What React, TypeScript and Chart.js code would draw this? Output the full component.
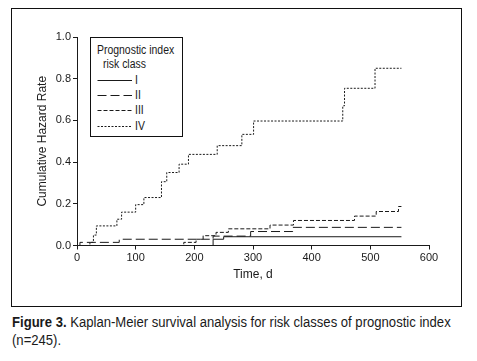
import React, { useEffect, useRef } from "react";
import { Chart, registerables } from "chart.js";

Chart.register(...registerables);

// ---- Data ----
const legendLabels = ["I", "II", "III", "IV"];

const timesI = [0, 232, 250, 553];
const hazardI = [0, 0.03, 0.042, 0.042];

const timesII = [0, 5, 72, 232, 296, 368, 553];
const hazardII = [0, 0.015, 0.03, 0.045, 0.067, 0.087, 0.087];

const timesIII = [0, 182, 203, 215, 237, 258, 329, 369, 473, 510, 548, 553];
const hazardIII = [0, 0.015, 0.03, 0.047, 0.063, 0.08, 0.098, 0.12, 0.141, 0.163, 0.187, 0.187];

const timesIV = [0, 22, 28, 33, 68, 76, 100, 114, 144, 153, 174, 190, 239, 281, 301, 453, 456, 508, 553];
const hazardIV = [0, 0.015, 0.05, 0.094, 0.126, 0.16, 0.196, 0.23, 0.306, 0.35, 0.39, 0.437, 0.479, 0.533, 0.597, 0.67, 0.754, 0.85, 0.85];

const xTickValues = [0, 100, 200, 300, 400, 500, 600];
const yTickValues = [0, 0.2, 0.4, 0.6, 0.8, 1.0];

const dashes: number[][] = [[], [9, 4], [4, 2], [2, 1.5]];

const FONT = "'Liberation Sans', Arial, sans-serif";
const INK = "#1a1a1a";

function pts(t: number[], v: number[]) {
  return t.map((x, i) => ({ x, y: v[i] }));
}

const narrow = (extra: React.CSSProperties = {}, sx = 0.87): React.CSSProperties => ({
  position: "absolute",
  whiteSpace: "nowrap",
  transform: `scaleX(${sx})`,
  transformOrigin: "0 50%",
  ...extra,
});

export default function App() {
  const ref = useRef<HTMLCanvasElement | null>(null);

  useEffect(() => {
    if (!ref.current) return;
    const series = [
      pts(timesI, hazardI),
      pts(timesII, hazardII),
      pts(timesIII, hazardIII),
      pts(timesIV, hazardIV),
    ];
    const chart = new Chart(ref.current, {
      type: "line",
      data: {
        datasets: series.map((d, i) => ({
          label: legendLabels[i],
          data: d,
          borderColor: INK,
          borderWidth: 1,
          borderDash: dashes[i],
          pointRadius: 0,
          stepped: "before" as const,
          fill: false,
        })),
      },
      options: {
        responsive: false,
        animation: false,
        layout: { padding: { left: 0, right: 48, top: 37, bottom: 24.5 } },
        plugins: { legend: { display: false }, tooltip: { enabled: false } },
        scales: {
          x: {
            type: "linear",
            min: 0,
            max: 600,
            afterFit: (s: any) => { s.height = 40; },
            afterBuildTicks: (s: any) => { s.ticks = xTickValues.map((value) => ({ value })); },
            ticks: { color: INK, font: { family: FONT, size: 11 }, padding: 2, maxRotation: 0 },
            grid: { drawOnChartArea: false, drawTicks: true, tickLength: 4, color: INK },
            border: { display: true, color: INK, width: 1 },
            title: { display: true, text: "Time, d", color: INK, font: { family: FONT, size: 12 }, padding: { top: 0, bottom: 4 } },
          },
          y: {
            type: "linear",
            min: 0,
            max: 1,
            afterFit: (s: any) => { s.width = 77; },
            afterBuildTicks: (s: any) => { s.ticks = yTickValues.map((value) => ({ value })); },
            ticks: { color: INK, font: { family: FONT, size: 11 }, padding: 2, callback: (v: any) => Number(v).toFixed(1) },
            grid: { drawOnChartArea: false, drawTicks: true, tickLength: 4, color: INK },
            border: { display: true, color: INK, width: 1 },
            title: { display: true, text: "Cumulative Hazard Rate", color: INK, font: { family: FONT, size: 12 }, padding: { top: 35, bottom: 0 } },
          },
        },
      },
    });
    return () => chart.destroy();
  }, []);

  const legendY = [79, 94.3, 109.3, 125];

  return (
    <div style={{ position: "absolute", left: 0, top: 0, width: 477, height: 361, background: "#fff", fontFamily: FONT, color: INK }}>
      <div style={{ position: "absolute", left: 11, top: 8, width: 449, height: 297, border: "1.5px solid #111" }} />
      <canvas ref={ref} width={477} height={310} style={{ position: "absolute", left: 0, top: 0, width: 477, height: 310 }} />
      <div style={{ position: "absolute", left: 90, top: 37, width: 91, height: 98, border: "1px solid #111", background: "#fff" }}>
        <div style={narrow({ left: 6, top: 5, fontSize: 12, lineHeight: "14px" })}>Prognostic index</div>
        <div style={narrow({ left: 12, top: 19, fontSize: 12, lineHeight: "14px" })}>risk class</div>
        {legendLabels.map((lab, i) => (
          <div key={lab} style={{ position: "absolute", left: 0, top: legendY[i] - 37 - 8, height: 16, width: 91 }}>
            <svg width={40} height={16} style={{ position: "absolute", left: 6, top: 0 }}>
              <line x1={0.5} y1={8.5} x2={35} y2={8.5} stroke={INK} strokeWidth={1} strokeDasharray={dashes[i].length ? dashes[i].join(" ") : undefined} />
            </svg>
            <div style={narrow({ left: 44, top: 1, fontSize: 12, lineHeight: "14px" })}>{lab}</div>
          </div>
        ))}
      </div>
      <div style={narrow({ left: 12, top: 313, fontSize: 14, lineHeight: "18px" }, 0.935)}>
        <b>Figure 3.</b> Kaplan-Meier survival analysis for risk classes of prognostic index
      </div>
      <div style={narrow({ left: 12, top: 331, fontSize: 14, lineHeight: "18px" }, 0.935)}>(n=245).</div>
    </div>
  );
}
